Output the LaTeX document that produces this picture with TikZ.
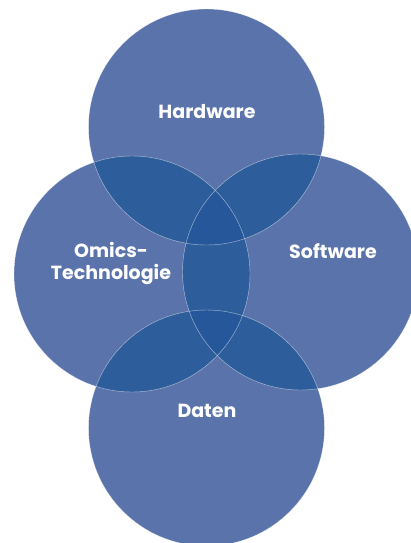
\documentclass[tikz,border=0pt]{standalone}
\usepackage{fontspec}
\setmainfont{Poppins}
\definecolor{ringblue}{HTML}{5A73AA}
\definecolor{pairblue}{HTML}{2D5E9B}
\definecolor{tripleblue}{HTML}{26579A}
\tikzset{ring/.style={fill=ringblue}}
\tikzset{ pair/.style={fill=pairblue}}
\tikzset{ triple/.style={fill=tripleblue}}
\tikzset{ rim/.style={draw=white, draw opacity=0.55, line width=0.45pt}}
\tikzset{ label/.style={text=white, font=\fontsize{19}{22}\selectfont\bfseries, align=center, inner sep=0pt}}
\newcommand{\ringr}{118pt}

\begin{document}
\begin{tikzpicture}[x=1pt, y=-1pt]
  \useasboundingbox (0,0) rectangle (410,543);
  % centres
  \coordinate (Hardware) at (206.5,127);
  \coordinate (Omics) at (132,274);
  \coordinate (Software) at (300.5,272);
  \coordinate (Daten) at (206.5,428);

  \fill[ring] (Hardware) circle[radius=\ringr];
  \fill[ring] (Omics) circle[radius=\ringr];
  \fill[ring] (Software) circle[radius=\ringr];
  \fill[ring] (Daten) circle[radius=\ringr];

  % overlaps
  \begin{scope}
    \clip (Hardware) circle[radius=\ringr];
    \fill[pair] (Omics) circle[radius=\ringr];
    \fill[pair] (Software) circle[radius=\ringr];
  \end{scope}
  \begin{scope}
    \clip (Daten) circle[radius=\ringr];
    \fill[pair] (Omics) circle[radius=\ringr];
    \fill[pair] (Software) circle[radius=\ringr];
  \end{scope}
  \begin{scope}
    \clip (Omics) circle[radius=\ringr];
    \fill[pair] (Software) circle[radius=\ringr];
  \end{scope}
  \begin{scope}
    \clip (Omics) circle[radius=\ringr];
    \clip (Software) circle[radius=\ringr];
    \fill[triple] (Hardware) circle[radius=\ringr];
    \fill[triple] (Daten) circle[radius=\ringr];
  \end{scope}

  \draw[rim] (Hardware) circle[radius=\ringr];
  \draw[rim] (Omics) circle[radius=\ringr];
  \draw[rim] (Software) circle[radius=\ringr];
  \draw[rim] (Daten) circle[radius=\ringr];

  \node[label, anchor=base] (HardwareText) at (207,118) {Hardware};
  \node[label, anchor=base] (OmicsText) at (111,279) {Omics-\\Technologie};
  \node[label, anchor=base] (SoftwareText) at (333,258) {Software};
  \node[label, anchor=base] (DatenText) at (207,417) {Daten};
\end{tikzpicture}
\end{document}
